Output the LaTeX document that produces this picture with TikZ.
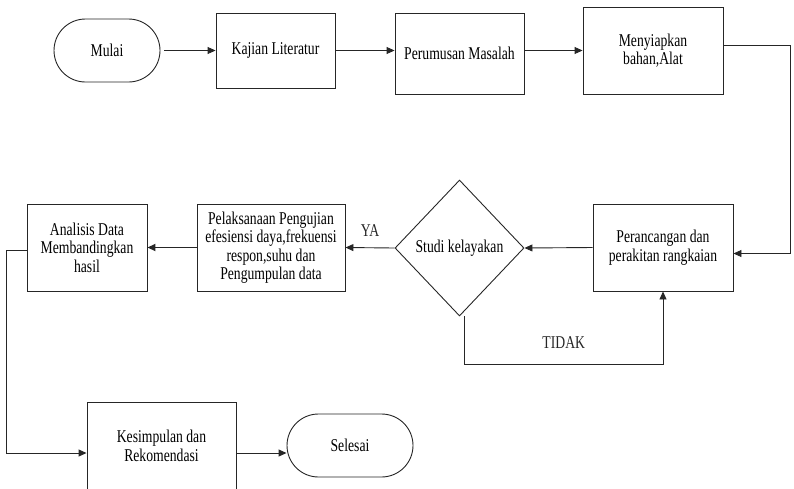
\documentclass[tikz,border=0pt]{standalone}
\usepackage{fontspec}
\setmainfont[FakeStretch=0.76]{Liberation Serif}
\usetikzlibrary{shapes, arrows.meta}

\begin{document}
\begin{tikzpicture}[x=1pt, y=-1pt, every node/.style={font=\fontsize{18}{18.5}\selectfont}]
  \colorlet{garis}{black!85}
  \tikzstyle{edge}=[-{Triangle[length=8pt,width=7pt]}, garis, line width=0.9pt]
  \tikzstyle{kotak}=[draw=garis, line width=0.9pt, align=center, inner sep=2pt]
  \tikzstyle{terminal}=[kotak, rounded rectangle]
  \tikzstyle{putusan}=[kotak, diamond, inner sep=0pt]
  \useasboundingbox (0,0) rectangle (794,488);
  % baris atas
  \node[terminal, minimum width=110, minimum height=63] (mulai) at (107, 50.5) {Mulai};
  \node[kotak, minimum width=119, minimum height=75] (kajian) at (275.5, 50.5) {Kajian Literatur};
  \node[kotak, minimum width=129, minimum height=81] (rumusan) at (459.5, 53.5) {Perumusan Masalah};
  \node[kotak, minimum width=140, minimum height=87] (siapkan) at (653, 50.5) {Menyiapkan\\bahan,Alat};
  % baris tengah
  \node[kotak, minimum width=140, minimum height=87] (rancang) at (663, 247.5) {Perancangan dan\\perakitan rangkaian};
  \node[putusan, minimum width=129, minimum height=136] (studi) at (459.5, 248) {Studi kelayakan};
  \node[kotak, minimum width=148, minimum height=87] (uji) at (271, 247.5) {Pelaksanaan Pengujian\\efesiensi daya,frekuensi\\respon,suhu dan\\Pengumpulan data};
  \node[kotak, minimum width=120, minimum height=87] (analisis) at (87, 247.5) {Analisis Data\\Membandingkan\\hasil};
  % baris bawah
  \node[kotak, minimum width=149, minimum height=88] (simpul) at (161.5, 446) {Kesimpulan dan\\Rekomendasi};
  \node[terminal, minimum width=130, minimum height=63] (selesai) at (350, 445.5) {Selesai};

  \draw[edge] ([xshift=4pt]mulai.east) -- (kajian.west);
  \draw[edge] (kajian.east) -- (kajian.east -| rumusan.west);
  \draw[edge] ([yshift=3pt]rumusan.east) -- ([yshift=3pt]rumusan.east -| siapkan.west);
  \draw[edge] ([yshift=5pt]siapkan.east) -- ++(67,0) |- ([yshift=-6pt]rancang.east);
  \draw[edge] (rancang.west) -- (studi.east);
  \draw[edge] (studi.west) -- node[above=7pt] {YA} (uji.east);
  \draw[edge] ([xshift=5pt]studi.south) -- ++(0,48) -| node[pos=0.25, above=12pt] {TIDAK} (rancang.south);
  \draw[edge, line width=1.8pt] (uji.west) -- (analisis.east);
  \draw[edge] ([yshift=-3pt]analisis.west) -- ++(-20,0) |- ([yshift=-7pt]simpul.west);
  \draw[edge] ([yshift=-7pt]simpul.east) -- ([yshift=-7pt]simpul.east -| selesai.west);
\end{tikzpicture}
\end{document}
